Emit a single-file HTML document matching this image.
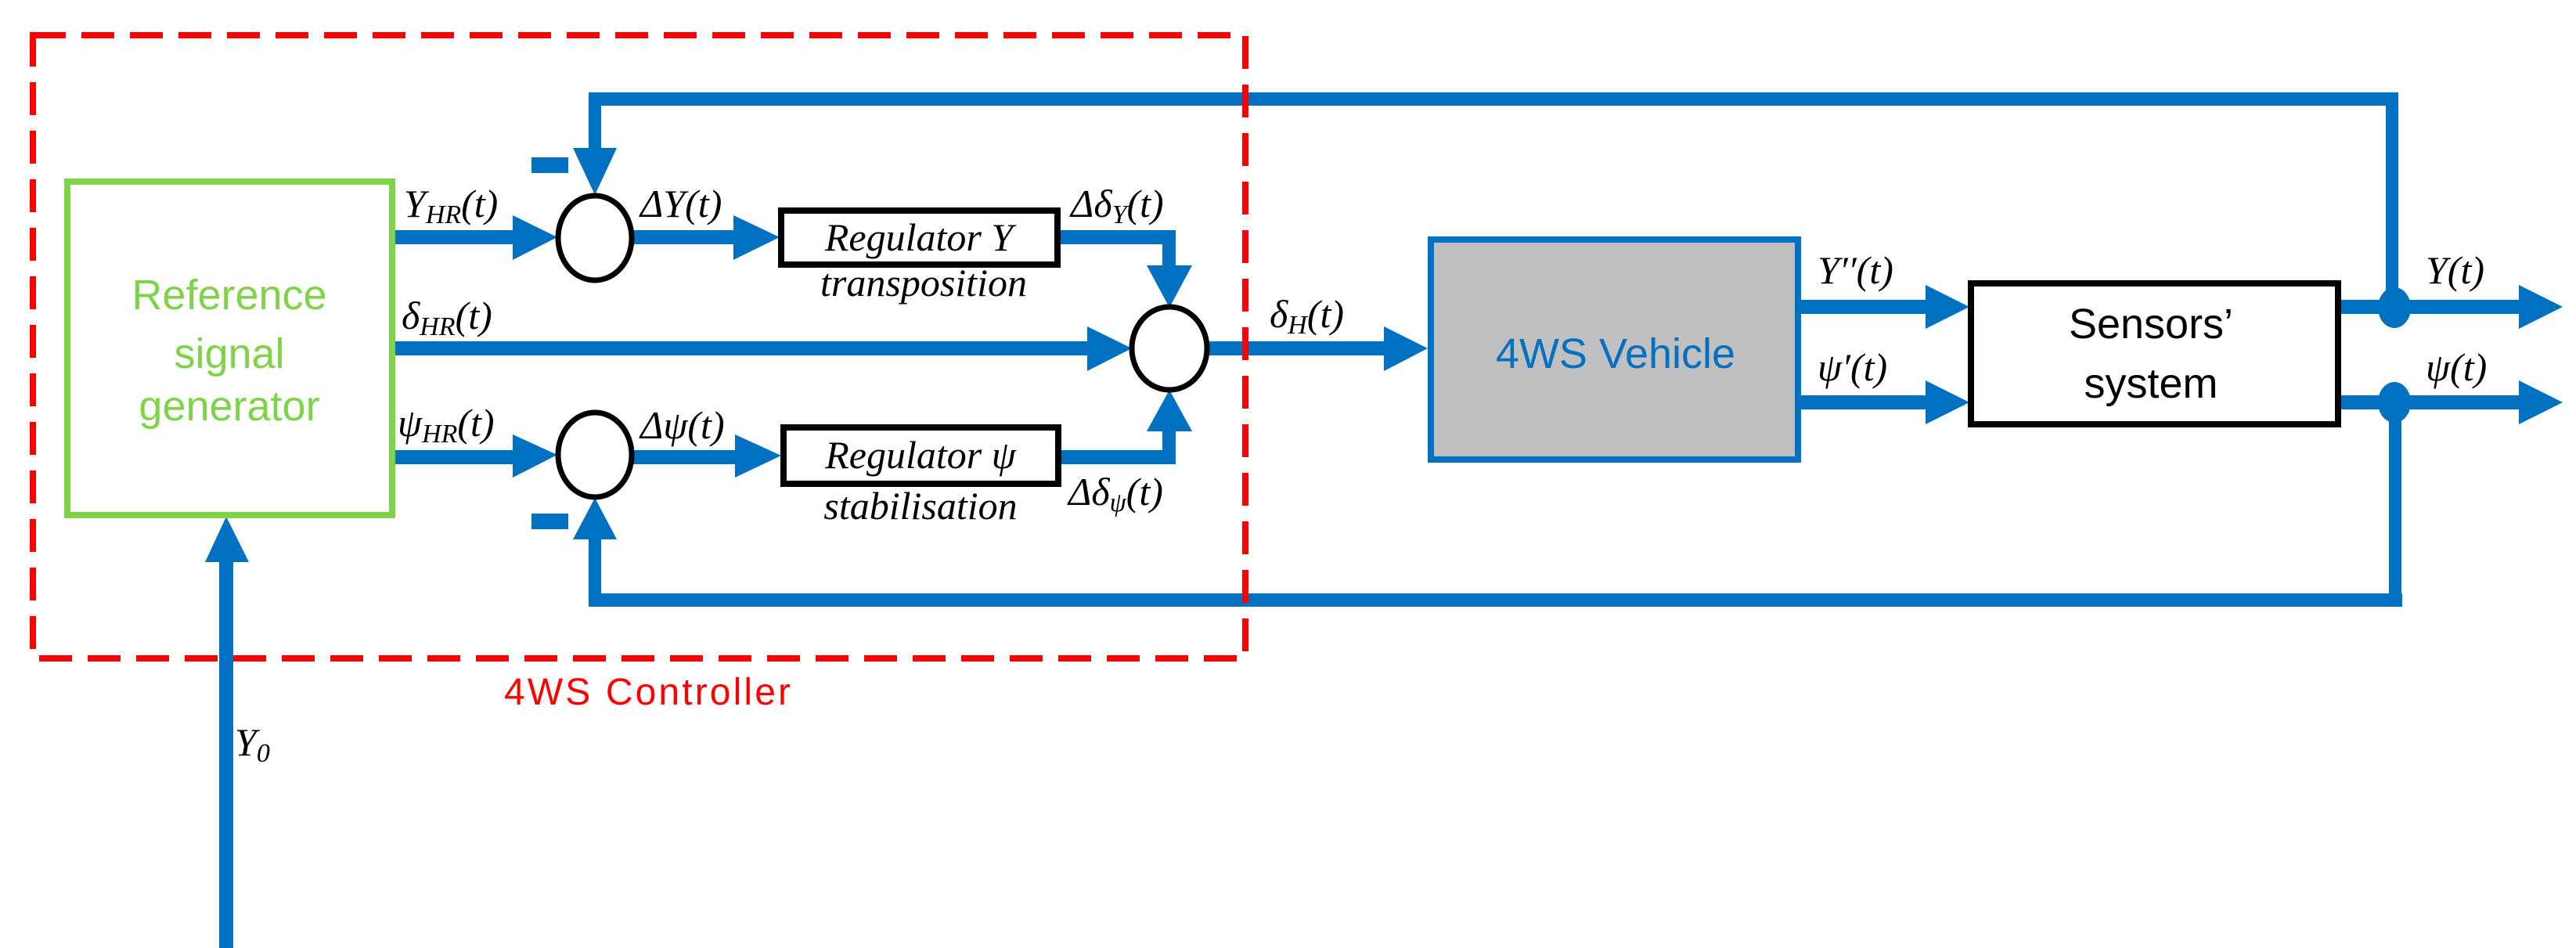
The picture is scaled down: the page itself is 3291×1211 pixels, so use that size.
<!DOCTYPE html>
<html><head><meta charset="utf-8"><style>
html,body{margin:0;padding:0;background:#fff;}
svg{display:block;}
.lb{font-family:"Liberation Serif",serif;font-style:italic;font-size:50px;fill:#000;}
.sub{font-size:34px;}
.sans{font-family:"Liberation Sans",sans-serif;}
</style></head><body>
<svg width="3291" height="1211" viewBox="0 0 3291 1211" xmlns="http://www.w3.org/2000/svg">
<g fill="#0070C0" stroke="none">
<rect x="752" y="118" width="2312" height="17"/>
<rect x="752" y="118" width="16" height="80"/>
<rect x="3048" y="118" width="16" height="280"/>
<polygon points="732,189 788,189 760,249"/>
<rect x="679" y="201" width="47" height="20"/>
<rect x="503" y="294" width="160" height="18"/>
<polygon points="655,275 712,303 655,332"/>
<rect x="808" y="294" width="135" height="18"/>
<polygon points="937,275 996,303 937,332"/>
<rect x="1352" y="294" width="150" height="18"/>
<rect x="1485" y="294" width="17" height="50"/>
<polygon points="1465,339 1523,339 1494,393"/>
<rect x="503" y="436" width="890" height="18"/>
<polygon points="1389,417 1446,445 1389,474"/>
<rect x="503" y="575" width="160" height="18"/>
<polygon points="655,555 712,581 655,610"/>
<rect x="808" y="575" width="135" height="18"/>
<polygon points="939,555 998,582 939,610"/>
<rect x="1352" y="575" width="150" height="18"/>
<rect x="1485" y="545" width="17" height="48"/>
<polygon points="1465,551 1523,551 1494,498"/>
<rect x="752" y="758" width="2317" height="17"/>
<rect x="752" y="680" width="16" height="95"/>
<rect x="3052" y="514" width="16" height="261"/>
<polygon points="732,689 788,689 760,636"/>
<rect x="679" y="656" width="47" height="20"/>
<rect x="280" y="710" width="18" height="501"/>
<polygon points="262,718 318,718 289,660"/>
<rect x="1542" y="436" width="232" height="18"/>
<polygon points="1768,417 1824,445 1768,474"/>
<rect x="2301" y="383" width="165" height="18"/>
<polygon points="2460,364 2516,392 2460,420"/>
<rect x="2301" y="505" width="165" height="18"/>
<polygon points="2460,486 2516,514 2460,542"/>
<rect x="2991" y="383" width="232" height="18"/>
<polygon points="3218,364 3274,392 3218,420"/>
<rect x="2991" y="505" width="232" height="18"/>
<polygon points="3218,486 3274,514 3218,542"/>
<ellipse cx="3059" cy="393" rx="21" ry="26"/>
<ellipse cx="3059" cy="514" rx="21" ry="26"/>
</g>
<rect x="42" y="45" width="1549" height="796" fill="none" stroke="#FF0000" stroke-width="8" stroke-dasharray="42,20"/>
<text x="644" y="900" font-family="Liberation Sans" font-size="48" fill="#FF0000" textLength="366">4WS Controller</text>
<rect x="86" y="232" width="415" height="426" fill="#fff" stroke="#7ED348" stroke-width="8"/>
<g font-family="Liberation Sans" font-size="54" fill="#7ED348" text-anchor="middle">
<text x="293" y="395">Reference</text>
<text x="293" y="470">signal</text>
<text x="293" y="537">generator</text>
</g>
<g fill="#fff" stroke="#000" stroke-width="7">
<ellipse cx="760" cy="304" rx="47" ry="54"/>
<ellipse cx="760" cy="581" rx="47" ry="54"/>
<ellipse cx="1494" cy="445" rx="48" ry="53"/>
</g>
<rect x="998" y="269" width="353" height="69" fill="#fff" stroke="#000" stroke-width="8"/>
<rect x="1001" y="546" width="351" height="72" fill="#fff" stroke="#000" stroke-width="8"/>
<text x="1174" y="320" class="lb" font-size="46" text-anchor="middle">Regulator Y</text>
<text x="1180" y="378" class="lb" font-size="40" text-anchor="middle">transposition</text>
<text x="1176" y="598" class="lb" font-size="46" text-anchor="middle">Regulator ψ</text>
<text x="1176" y="663" class="lb" font-size="40" text-anchor="middle">stabilisation</text>
<text x="516" y="277" class="lb">Y<tspan class="sub" dy="8">HR</tspan><tspan dy="-8">(t)</tspan></text>
<text x="818" y="277" class="lb">ΔY(t)</text>
<text x="1368" y="277" class="lb">Δδ<tspan class="sub" dy="8">Y</tspan><tspan dy="-8">(t)</tspan></text>
<text x="513" y="420" class="lb">δ<tspan class="sub" dy="8">HR</tspan><tspan dy="-8">(t)</tspan></text>
<text x="508" y="557" class="lb">ψ<tspan class="sub" dy="8">HR</tspan><tspan dy="-8">(t)</tspan></text>
<text x="818" y="560" class="lb">Δψ(t)</text>
<text x="1365" y="645" class="lb">Δδ<tspan class="sub" dy="8">ψ</tspan><tspan dy="-8">(t)</tspan></text>
<text x="1622" y="418" class="lb">δ<tspan class="sub" dy="8">H</tspan><tspan dy="-8">(t)</tspan></text>
<text x="300" y="965" class="lb">Y<tspan class="sub" dy="8">0</tspan></text>
<text x="2322" y="362" class="lb">Y′′(t)</text>
<text x="2322" y="486" class="lb">ψ′(t)</text>
<text x="3099" y="362" class="lb">Y(t)</text>
<text x="3099" y="486" class="lb">ψ(t)</text>
<rect x="1828" y="306" width="469" height="281" fill="#C0C0C0" stroke="#0070C0" stroke-width="8"/>
<text x="2064" y="470" font-family="Liberation Sans" font-size="54" fill="#0070C0" text-anchor="middle">4WS Vehicle</text>
<rect x="2518" y="362" width="469" height="180" fill="#fff" stroke="#000" stroke-width="8"/>
<g font-family="Liberation Sans" font-size="54" fill="#000" text-anchor="middle">
<text x="2748" y="432">Sensors’</text>
<text x="2748" y="508">system</text>
</g>
</svg>
</body></html>
